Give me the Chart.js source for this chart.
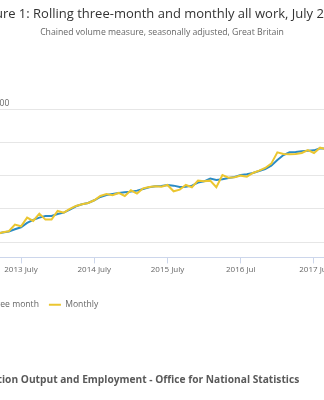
<!DOCTYPE html>
<html>
<head>
<meta charset="utf-8">
<script src="https://cdn.jsdelivr.net/npm/chart.js@4.4.0/dist/chart.umd.min.js"></script>
<style>
    html, body { margin: 0; padding: 0; background: #fff; }
    #frame { position: relative; width: 324px; height: 400px; overflow: hidden; }
    #holder { position: absolute; left: -100px; top: 0; width: 524px; height: 400px; }
</style>
</head>
<body>
<div id="frame">
    <div id="holder"><canvas id="lineChart"></canvas></div>
</div>
<script>
var months = [
    '2013 Mar', '2013 Apr', '2013 May', '2013 Jun', '2013 July', '2013 Aug', '2013 Sep', '2013 Oct', '2013 Nov', '2013 Dec',
    '2014 Jan', '2014 Feb', '2014 Mar', '2014 Apr', '2014 May', '2014 Jun', '2014 July', '2014 Aug', '2014 Sep', '2014 Oct', '2014 Nov', '2014 Dec',
    '2015 Jan', '2015 Feb', '2015 Mar', '2015 Apr', '2015 May', '2015 Jun', '2015 July', '2015 Aug', '2015 Sep', '2015 Oct', '2015 Nov', '2015 Dec',
    '2016 Jan', '2016 Feb', '2016 Mar', '2016 Apr', '2016 May', '2016 Jun', '2016 Jul', '2016 Aug', '2016 Sep', '2016 Oct', '2016 Nov', '2016 Dec',
    '2017 Jan', '2017 Feb', '2017 Mar', '2017 Apr', '2017 May', '2017 Jun', '2017 Jul', '2017 Aug', '2017 Sep'
];

var rollingThreeMonth = [
    82.6, 82.9, 83.2, 83.9, 84.5, 85.8, 86.7, 87.4, 87.9, 87.9,
    88.5, 88.9, 89.8, 90.8, 91.4, 91.8, 92.6, 93.6, 94.2, 94.5, 94.8, 95.0,
    95.2, 95.5, 96.0, 96.5, 96.8, 96.9, 97.2, 97.0, 96.6, 96.7, 97.0, 97.9,
    98.3, 99.1, 98.7, 98.9, 99.3, 99.6, 100.2, 100.4, 100.8, 101.4, 102.0, 103.0,
    104.7, 106.2, 107.0, 107.1, 107.3, 107.5, 107.6, 108.2, 108.1
];

var monthly = [
    82.4, 83.0, 83.3, 85.3, 84.8, 87.4, 86.4, 88.6, 86.8, 86.8,
    89.4, 88.9, 90.0, 90.9, 91.4, 91.8, 92.6, 93.9, 94.5, 94.1, 94.8, 93.9,
    95.6, 94.6, 96.2, 96.6, 96.8, 96.7, 97.2, 95.3, 95.8, 97.2, 96.5, 98.5,
    98.3, 98.5, 96.5, 100.2, 99.4, 99.5, 100.0, 99.7, 100.8, 101.5, 102.3, 103.6,
    107.0, 106.5, 106.4, 106.5, 106.8, 107.7, 106.8, 108.4, 107.9
];

var yTicks = [80, 90, 100, 110, 120];

var chartTitle = 'Figure 1: Rolling three-month and monthly all work, July 2017';
var chartSubtitle = 'Chained volume measure, seasonally adjusted, Great Britain';
var unitLabel = 'Index, 2015=100';
var sourceText = 'Source: Construction Output and Employment - Office for National Statistics';

// unit text above the plot and the source line at the foot
var extraText = {
    id: 'extraText',
    afterDraw: function (chart) {
        var ctx = chart.ctx;
        ctx.save();
        ctx.textBaseline = 'middle';
        ctx.textAlign = 'left';
        ctx.font = '8.5px "Open Sans"';
        ctx.fillStyle = '#666666';
        ctx.fillText(unitLabel, 44, chart.chartArea.top - 5);
        ctx.font = 'bold 10.2px "Open Sans"';
        ctx.fillStyle = '#595959';
        ctx.fillText(sourceText, 12, 380);
        ctx.restore();
    }
};

function loadChart() {
    var ctx = document.getElementById('lineChart').getContext('2d');
    var lineChart = new Chart(ctx, {
        type: 'line',
        data: {
            labels: months,
            datasets: [
                {
                    label: 'Rolling three month',
                    data: rollingThreeMonth,
                    borderColor: '#2a8bc5',
                    backgroundColor: '#2a8bc5',
                    borderWidth: 2,
                    pointRadius: 0,
                    order: 1
                },
                {
                    label: 'Monthly',
                    data: monthly,
                    borderColor: '#ebc630',
                    backgroundColor: '#ebc630',
                    borderWidth: 2,
                    pointRadius: 0,
                    order: 0
                }
            ]
        },
        options: {
            responsive: true,
            maintainAspectRatio: false,
            animation: false,
            events: [],
            layout: {
                padding: { left: 33, right: 33, top: 0, bottom: 81 }
            },
            plugins: {
                title: {
                    display: true,
                    text: chartTitle,
                    color: '#333333',
                    font: { family: 'Open Sans', size: 13, weight: 'normal' },
                    padding: { top: 6, bottom: 4 }
                },
                subtitle: {
                    display: true,
                    text: chartSubtitle,
                    color: '#666666',
                    font: { family: 'Open Sans', size: 8.7 },
                    padding: { top: 2, bottom: 71 }
                },
                legend: {
                    position: 'bottom',
                    align: 'start',
                    labels: {
                        usePointStyle: true,
                        pointStyle: 'line',
                        pointStyleWidth: 12,
                        color: '#666666',
                        padding: 10,
                        font: { family: 'Open Sans', size: 8.6 },
                        sort: function (a, b) { return a.datasetIndex - b.datasetIndex; }
                    }
                },
                tooltip: { enabled: false }
            },
            scales: {
                x: {
                    type: 'category',
                    offset: false,
                    afterFit: function (scale) { scale.height = 33; },
                    grid: {
                        drawOnChartArea: false,
                        drawTicks: true,
                        tickLength: 6,
                        color: '#ccd6eb'
                    },
                    border: { display: true, color: '#ccd6eb' },
                    ticks: {
                        autoSkip: false,
                        maxRotation: 0,
                        padding: 2,
                        color: '#666666',
                        font: { family: 'Open Sans', size: 8 },
                        callback: function (value) {
                            var lbl = this.getLabelForValue(value);
                            return lbl.indexOf('Jul') > -1 ? lbl : null;
                        }
                    }
                },
                y: {
                    min: 75.45,
                    max: 120,
                    afterFit: function (scale) { scale.width = 63.6; },
                    afterBuildTicks: function (scale) {
                        scale.ticks = yTicks.map(function (v) { return { value: v }; });
                    },
                    grid: { color: '#e6e6e6', drawTicks: false },
                    border: { display: false },
                    ticks: {
                        color: '#666666',
                        padding: 6,
                        font: { family: 'Open Sans', size: 8 }
                    }
                },
                // empty right-hand axis, keeps the plot clear of the right margin
                yRight: {
                    position: 'right',
                    afterFit: function (scale) { scale.width = 64.8; },
                    grid: { display: false },
                    border: { display: false },
                    ticks: { display: false }
                }
            }
        },
        plugins: [extraText]
    });
}

loadChart();
</script>
</body>
</html>
